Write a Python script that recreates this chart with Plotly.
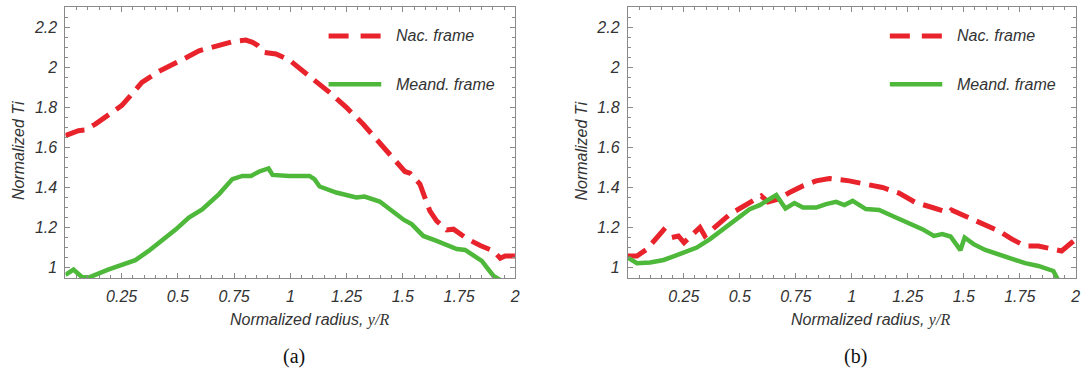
import plotly.graph_objects as go

# ---- panel (a) ----
x_a_nac = [0, 0.058, 0.088, 0.133, 0.207, 0.251, 0.296, 0.34, 0.415, 0.49, 0.534,
           0.594, 0.624, 0.683, 0.742, 0.802, 0.832, 0.854, 0.884, 0.936, 0.996,
           1.025, 1.1, 1.174, 1.249, 1.323, 1.397, 1.472, 1.509, 1.531, 1.576,
           1.598, 1.62, 1.65, 1.695, 1.725, 1.784, 1.844, 1.903, 1.933, 1.955, 2.0]
y_a_nac = [1.659, 1.684, 1.687, 1.717, 1.775, 1.81, 1.867, 1.925, 1.98, 2.02, 2.047,
           2.083, 2.09, 2.11, 2.128, 2.136, 2.125, 2.11, 2.075, 2.067, 2.036,
           2.008, 1.942, 1.875, 1.8, 1.717, 1.625, 1.533, 1.48, 1.472, 1.417,
           1.35, 1.283, 1.233, 1.188, 1.192, 1.145, 1.11, 1.083, 1.047, 1.058, 1.058]

x_a_meand = [0, 0.036, 0.073, 0.103, 0.19, 0.267, 0.311, 0.37, 0.43, 0.49, 0.549,
             0.608, 0.683, 0.742, 0.787, 0.825, 0.862, 0.903, 0.921, 0.996, 1.085,
             1.107, 1.13, 1.204, 1.293, 1.33, 1.397, 1.457, 1.505, 1.539, 1.591,
             1.65, 1.695, 1.74, 1.777, 1.829, 1.851, 1.874, 1.903, 1.96]
y_a_meand = [0.963, 0.99, 0.953, 0.95, 0.99, 1.02, 1.037, 1.083, 1.133, 1.19, 1.25,
             1.29, 1.367, 1.442, 1.458, 1.458, 1.48, 1.495, 1.463, 1.458, 1.458,
             1.442, 1.405, 1.375, 1.35, 1.355, 1.33, 1.28, 1.238, 1.217, 1.158,
             1.133, 1.11, 1.093, 1.088, 1.047, 1.033, 1.0, 0.958, 0.92]

# ---- panel (b) ----
x_b_nac = [0, 0.041, 0.085, 0.122, 0.16, 0.196, 0.226, 0.251, 0.293, 0.322, 0.344,
           0.396, 0.456, 0.515, 0.56, 0.596, 0.626, 0.671, 0.722, 0.782, 0.841,
           0.9, 0.989, 1.063, 1.137, 1.211, 1.285, 1.36, 1.433, 1.445, 1.508,
           1.567, 1.611, 1.656, 1.715, 1.774, 1.833, 1.893, 1.937, 1.982, 2.0]
y_b_nac = [1.058, 1.058, 1.092, 1.142, 1.188, 1.15, 1.158, 1.125, 1.167, 1.2, 1.158,
           1.208, 1.267, 1.305, 1.333, 1.358, 1.328, 1.342, 1.375, 1.408, 1.433,
           1.445, 1.433, 1.417, 1.4, 1.372, 1.325, 1.3, 1.275, 1.288, 1.258,
           1.225, 1.205, 1.183, 1.142, 1.108, 1.108, 1.092, 1.083, 1.125, 1.14]

x_b_meand = [0, 0.041, 0.1, 0.16, 0.219, 0.263, 0.308, 0.367, 0.426, 0.485, 0.544,
             0.589, 0.633, 0.663, 0.704, 0.744, 0.782, 0.841, 0.885, 0.93, 0.967,
             1.004, 1.063, 1.122, 1.182, 1.256, 1.315, 1.367, 1.404, 1.441, 1.463,
             1.485, 1.504, 1.544, 1.596, 1.656, 1.715, 1.774, 1.833, 1.9, 1.93]
y_b_meand = [1.05, 1.022, 1.025, 1.038, 1.062, 1.083, 1.1, 1.142, 1.192, 1.242, 1.292,
             1.312, 1.342, 1.362, 1.295, 1.322, 1.3, 1.3, 1.317, 1.328, 1.312,
             1.333, 1.292, 1.288, 1.258, 1.222, 1.192, 1.158, 1.167, 1.155, 1.117,
             1.087, 1.15, 1.117, 1.088, 1.067, 1.045, 1.022, 1.008, 0.983, 0.92]

x_tick_vals = [0.25, 0.5, 0.75, 1, 1.25, 1.5, 1.75, 2]
x_tick_text = ["0.25", "0.5", "0.75", "1", "1.25", "1.5", "1.75", "2"]
y_tick_vals = [1, 1.2, 1.4, 1.6, 1.8, 2, 2.2]
y_tick_text = ["1", "1.2", "1.4", "1.6", "1.8", "2", "2.2"]

series_names = ["Nac. frame", "Meand. frame"]
panel_labels = ["(a)", "(b)"]

RED = "#E8232C"
GREEN = "#4DB83A"
FRAME = "#8a8a8a"
TEXT = "#333333"
SANS = "Liberation Sans, Arial, sans-serif"
SERIF = "Liberation Serif, Times New Roman, serif"
DASH = "20px,9px"

fig = go.Figure()

panels = [
    ("x", "y", x_a_nac, y_a_nac, x_a_meand, y_a_meand),
    ("x2", "y2", x_b_nac, y_b_nac, x_b_meand, y_b_meand),
]
for xa, ya, xn, yn, xm, ym in panels:
    fig.add_trace(go.Scatter(x=xn, y=yn, mode="lines", xaxis=xa, yaxis=ya,
                             line=dict(color=RED, width=5, dash=DASH),
                             name=series_names[0], showlegend=False))
    fig.add_trace(go.Scatter(x=xm, y=ym, mode="lines", xaxis=xa, yaxis=ya,
                             line=dict(color=GREEN, width=4.5),
                             name=series_names[1], showlegend=False))

W, H = 1088, 368
left_px = [65.7, 630.7]
right_px = [517.7, 1080.7]
top_px, bottom_px = 7.3, 278.0

tick_font = dict(family=SANS, size=16, color=TEXT, style="italic")


def x_axis(i):
    return dict(
        domain=[left_px[i] / W, right_px[i] / W], range=[0, 2],
        anchor="y" if i == 0 else "y2",
        showgrid=False, zeroline=False,
        showline=True, linecolor=FRAME, linewidth=1, mirror="ticks",
        ticks="inside", ticklen=5, tickwidth=1, tickcolor=FRAME,
        tickvals=x_tick_vals, ticktext=x_tick_text, tickfont=tick_font,
        ticklabelstandoff=4,
        minor=dict(ticks="inside", ticklen=3, tickwidth=1, tickcolor=FRAME,
                   tick0=0, dtick=0.05, showgrid=False),
    )


def y_axis(i):
    return dict(
        domain=[1 - bottom_px / H, 1 - top_px / H], range=[0.948, 2.3],
        anchor="x" if i == 0 else "x2",
        showgrid=False, zeroline=False,
        showline=True, linecolor=FRAME, linewidth=1, mirror="ticks",
        ticks="inside", ticklen=5, tickwidth=1, tickcolor=FRAME,
        tickvals=y_tick_vals, ticktext=y_tick_text, tickfont=tick_font,
        ticklabelstandoff=4,
        minor=dict(ticks="inside", ticklen=3, tickwidth=1, tickcolor=FRAME,
                   tick0=0, dtick=0.05, showgrid=False),
    )


annotations = []
shapes = []
for i in range(2):
    xs = "x" if i == 0 else "x2"
    ys = "y" if i == 0 else "y2"
    cx = (left_px[i] + right_px[i]) / 2
    # axis titles
    annotations.append(dict(
        x=(cx + 19) / W, y=1 - 320 / H, xref="paper", yref="paper",
        text="Normalized radius, <span style='font-family:Liberation Serif'>y/R</span>",
        showarrow=False, xanchor="center", yanchor="middle",
        font=dict(family=SANS, size=16, color=TEXT, style="italic")))
    annotations.append(dict(
        x=(left_px[i] - 47.5) / W, y=1 - 151 / H, xref="paper", yref="paper",
        text="Normalized Ti", textangle=-90, showarrow=False,
        xanchor="center", yanchor="middle",
        font=dict(family=SANS, size=16, color=TEXT, style="italic")))
    # panel label
    annotations.append(dict(
        x=(cx + 4) / W, y=1 - 356 / H, xref="paper", yref="paper",
        text=panel_labels[i], showarrow=False, xanchor="center", yanchor="middle",
        font=dict(family=SERIF, size=20, color="#111111")))
    # legend keys
    for j, (col, dash, wd, yd) in enumerate([(RED, DASH, 5, 0.894), (GREEN, "solid", 4.5, 0.7155)]):
        shapes.append(dict(type="line", xref=f"{xs} domain", yref=f"{ys} domain",
                           x0=0.585, x1=0.702, y0=yd, y1=yd,
                           line=dict(color=col, width=wd, dash="20px,12px" if j == 0 else dash)))
        annotations.append(dict(
            x=0.731, y=yd, xref=f"{xs} domain", yref=f"{ys} domain",
            text=series_names[j], showarrow=False, xanchor="left", yanchor="middle",
            font=dict(family=SANS, size=16, color=TEXT, style="italic")))

fig.update_layout(
    width=W, height=H,
    margin=dict(l=0, r=0, t=0, b=0),
    paper_bgcolor="white", plot_bgcolor="white",
    xaxis=x_axis(0), yaxis=y_axis(0),
    xaxis2=x_axis(1), yaxis2=y_axis(1),
    annotations=annotations, shapes=shapes,
    showlegend=False,
)

fig.write_html("out.html", config={"displayModeBar": False})
